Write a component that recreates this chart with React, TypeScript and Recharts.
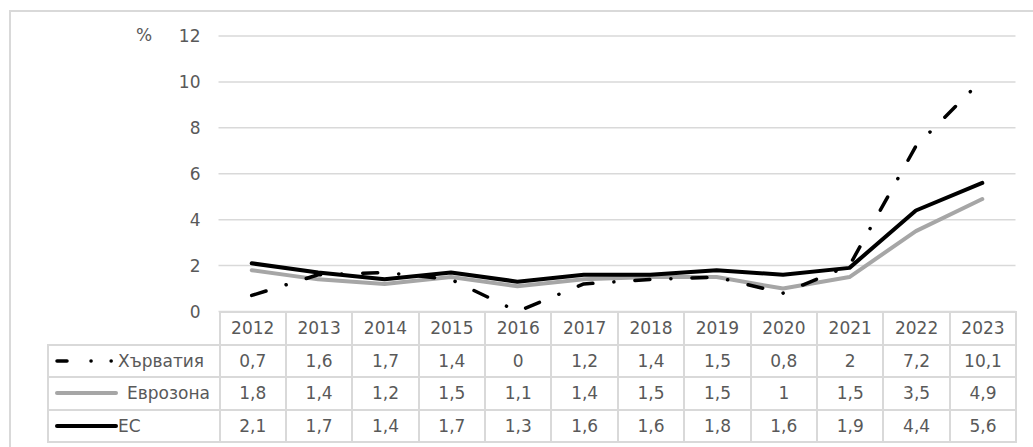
import { LineChart, Line, XAxis, YAxis, CartesianGrid } from 'recharts'

const years = ['2012', '2013', '2014', '2015', '2016', '2017', '2018', '2019', '2020', '2021', '2022', '2023']
const croatia = [0.7, 1.6, 1.7, 1.4, 0, 1.2, 1.4, 1.5, 0.8, 2, 7.2, 10.1]
const eurozone = [1.8, 1.4, 1.2, 1.5, 1.1, 1.4, 1.5, 1.5, 1, 1.5, 3.5, 4.9]
const eu = [2.1, 1.7, 1.4, 1.7, 1.3, 1.6, 1.6, 1.8, 1.6, 1.9, 4.4, 5.6]
const yTicks = [0, 2, 4, 6, 8, 10, 12]

const series = [
  { key: 'croatia', name: 'Хърватия', values: croatia, color: '#000000', width: 3.5, dash: '15 21 0.1 21', gap: 0 },
  { key: 'eurozone', name: 'Еврозона', values: eurozone, color: '#a6a6a6', width: 4, dash: undefined, gap: 9 },
  { key: 'eu', name: 'ЕС', values: eu, color: '#000000', width: 4, dash: undefined, gap: 0 },
]

const data = years.map((year, i) => ({
  year,
  croatia: croatia[i],
  eurozone: eurozone[i],
  eu: eu[i],
}))

// draw order: gray first, then EU, Croatia on top
const drawOrder = ['eurozone', 'eu', 'croatia']

const fmt = (v: number) => String(v).replace('.', ',')

const border = '2px solid #d9d9d9'
const textColor = '#595959'
const font = '"DejaVu Sans", sans-serif'
const colW = 66.4
const rowH = 32.5

function LegendKey({ s }: { s: (typeof series)[number] }) {
  if (s.key === 'croatia') {
    return (
      <svg width={64} height={10} style={{ display: 'block' }}>
        <line x1={3} y1={5} x2={64} y2={5} stroke={s.color} strokeWidth={s.width} strokeLinecap="round" strokeDasharray="10 24 0.1 20 0.1 40" />
      </svg>
    )
  }
  return (
    <svg width={64} height={10} style={{ display: 'block' }}>
      <line x1={3} y1={5} x2={62} y2={5} stroke={s.color} strokeWidth={s.width} strokeLinecap="round" />
    </svg>
  )
}

export default function App() {
  return (
    <div
      style={{
        position: 'fixed',
        left: 0,
        top: 0,
        width: 1033,
        height: 447,
        overflow: 'hidden',
        background: '#fff',
        fontFamily: font,
      }}
    >
      <div
        style={{
          position: 'absolute',
          left: 9,
          top: 10,
          width: 1060,
          height: 470,
          border,
          boxSizing: 'border-box',
        }}
      />

      <div style={{ position: 'absolute', left: 136, top: 25, fontSize: 17, color: textColor }}>%</div>

      <div style={{ position: 'absolute', left: 0, top: 0 }}>
        <LineChart width={1033} height={330} data={data} margin={{ top: 36, right: 17.5, bottom: 18.5, left: 0 }}>
          <CartesianGrid vertical={false} stroke="#d9d9d9" strokeWidth={1.5} />
          <XAxis dataKey="year" hide padding={{ left: colW / 2, right: colW / 2 }} />
          <YAxis
            width={218.5}
            domain={[0, 12]}
            ticks={yTicks}
            axisLine={false}
            tickLine={false}
            tickSize={0}
            tickMargin={18}
            tick={{ fill: textColor, fontSize: 17, fontFamily: font }}
          />
          {drawOrder.map((k) => {
            const s = series.find((x) => x.key === k)!
            return (
              <Line
                key={s.key}
                type="linear"
                dataKey={s.key}
                name={s.name}
                stroke={s.color}
                strokeWidth={s.width}
                strokeDasharray={s.dash}
                strokeLinecap="round"
                strokeLinejoin="round"
                dot={false}
                activeDot={false}
                isAnimationActive={false}
              />
            )
          })}
        </LineChart>
      </div>

      <table
        style={{
          position: 'absolute',
          left: 47,
          top: 311,
          borderCollapse: 'collapse',
          tableLayout: 'fixed',
          fontSize: 17,
          color: textColor,
        }}
      >
        <colgroup>
          <col style={{ width: 171.5 }} />
          {years.map((y) => (
            <col key={y} style={{ width: colW }} />
          ))}
        </colgroup>
        <tbody>
          <tr style={{ height: rowH }}>
            <td style={{ border: 'none', padding: 0 }} />
            {years.map((y) => (
              <td key={y} style={{ border, textAlign: 'center', padding: 0 }}>
                {y}
              </td>
            ))}
          </tr>
          {series.map((s) => (
            <tr key={s.key} style={{ height: rowH }}>
              <td style={{ border, padding: '0 0 0 5px', whiteSpace: 'nowrap' }}>
                <div style={{ display: 'flex', alignItems: 'center' }}>
                  <LegendKey s={s} />
                  <span style={{ marginLeft: s.gap }}>{s.name}</span>
                </div>
              </td>
              {s.values.map((v, i) => (
                <td key={i} style={{ border, textAlign: 'center', padding: 0 }}>
                  {fmt(v)}
                </td>
              ))}
            </tr>
          ))}
        </tbody>
      </table>
    </div>
  )
}
